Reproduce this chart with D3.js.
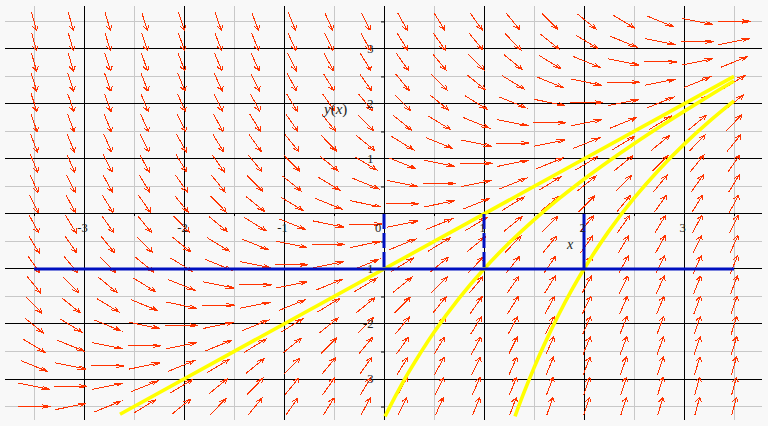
<!DOCTYPE html>
<html><head><meta charset="utf-8">
<script src="https://cdn.jsdelivr.net/npm/d3@7"></script>
<style>html,body{margin:0;padding:0;background:#f8f8f8;} svg{display:block;}</style>
</head><body><svg id="c" width="768" height="426"></svg>
<script>
// Direction field of dy/dx = x - y, sampled on a 20 x 20 grid
const fieldX = [-3.5,-3.132,-2.763,-2.395,-2.026,-1.658,-1.289,-0.921,-0.553,-0.184,0.184,0.553,0.921,1.289,1.658,2.026,2.395,2.763,3.132,3.5];
const fieldY = [-3.5,-3.132,-2.763,-2.395,-2.026,-1.658,-1.289,-0.921,-0.553,-0.184,0.184,0.553,0.921,1.289,1.658,2.026,2.395,2.763,3.132,3.5];
const slope = (x, y) => x - y;
const arrowLen = 0.33;

// Axis / grid values
const majorX = [-3,-2,-1,0,1,2,3];
const majorY = [-3,-2,-1,0,1,2,3];
const minorX = [-3.5,-2.5,-1.5,-0.5,0.5,1.5,2.5,3.5];
const minorY = [-3.5,-2.5,-1.5,-0.5,0.5,1.5,2.5,3.5];
const xTickVals = [-3,-2,-1,0,1,2,3];
const xTickLabels = ["-3","-2","-1","0","1","2","3"];
const yTickVals = [3,2,1,-1,-2,-3];
const yTickLabels = ["3","2","1","-1","-2","-3"];

// Solution curves
const curve1 = [[-2.64,-3.64],[3.5,2.5]];
const curve2 = [[0.01,-3.68],[0.1,-3.36],[0.25,-2.867],[0.5,-2.149],[0.75,-1.534],[1.0,-1.0],[1.25,-0.529],[1.5,-0.107],[1.75,0.278],[2.0,0.632],[2.25,0.963],[2.5,1.277],[2.75,1.576],[3.0,1.865],[3.25,2.145],[3.5,2.418]];
const curve3 = [[1.31,-3.677],[1.4,-3.244],[1.5,-2.797],[1.6,-2.384],[1.75,-1.818],[1.875,-1.39],[2.0,-1.0],[2.25,-0.308],[2.5,0.287],[2.75,0.805],[3.0,1.264],[3.25,1.677],[3.5,2.054]];
const curves = [curve1, curve2, curve3];

// Blue reference lines
const hLine = {y: -1, x0: -3.5, x1: 3.5};
const vLines = [{x: 0, y0: 0, y1: -1, dashed: true}, {x: 1, y0: 0, y1: -1, dashed: true}, {x: 2, y0: 0, y1: -1, dashed: false}];

const svg = d3.select("#c");
const x = d3.scaleLinear().domain([-3.79, 3.78]).range([5, 762]);
const y = d3.scaleLinear().domain([-3.745, 3.78]).range([420, 6]);
const [X0, X1] = x.domain(), [Y0, Y1] = y.domain();

svg.append("rect").attr("width",768).attr("height",426).attr("fill","#f8f8f8");

// grid
const g = svg.append("g").attr("shape-rendering","crispEdges");
g.selectAll(".mx").data(minorX).join("line").attr("x1",d=>x(d)).attr("x2",d=>x(d)).attr("y1",y(Y1)).attr("y2",y(Y0)).attr("stroke","#c8c8c8");
g.selectAll(".my").data(minorY).join("line").attr("class","my").attr("y1",d=>y(d)).attr("y2",d=>y(d)).attr("x1",x(X0)).attr("x2",x(X1)).attr("stroke","#c8c8c8");
g.selectAll(".Mx").data(majorX).join("line").attr("class","Mx").attr("x1",d=>x(d)).attr("x2",d=>x(d)).attr("y1",y(Y1)).attr("y2",y(Y0)).attr("stroke","#000");
g.selectAll(".My").data(majorY).join("line").attr("class","My").attr("y1",d=>y(d)).attr("y2",d=>y(d)).attr("x1",x(X0)).attr("x2",x(X1)).attr("stroke","#000");

// small axis ticks
const ax = svg.append("g").attr("transform",`translate(0,${y(0)})`).call(d3.axisBottom(x).tickValues(minorX).tickSize(2).tickFormat(""));
const ay = svg.append("g").attr("transform",`translate(${x(0)},0)`).call(d3.axisLeft(y).tickValues(minorY).tickSize(3).tickFormat(""));
[ax, ay].forEach(a => { a.select(".domain").remove(); a.selectAll("line").attr("stroke","#000"); });

// arrows
const pts = [];
fieldX.forEach(fx => fieldY.forEach(fy => pts.push([fx, fy])));
function arrowPath([cx, cy]) {
  const m = slope(cx, cy);
  const n = Math.sqrt(1 + m*m);
  const dx = 1/n, dy = m/n;
  const h = arrowLen/2;
  const p0 = [cx - dx*h, cy - dy*h], p1 = [cx + dx*h, cy + dy*h];
  const back = arrowLen*0.25, hw = 0.03;
  const b = [p1[0] - dx*back, p1[1] - dy*back];
  const q1 = [b[0] - dy*hw, b[1] + dx*hw], q2 = [b[0] + dy*hw, b[1] - dx*hw];
  const P = p => `${x(p[0]).toFixed(2)},${y(p[1]).toFixed(2)}`;
  return `M${P(p0)}L${P(p1)}M${P(q1)}L${P(p1)}L${P(q2)}`;
}
svg.append("g").attr("shape-rendering","crispEdges").selectAll("path").data(pts).join("path").attr("d", arrowPath)
  .attr("fill","none").attr("stroke","#ff3300").attr("stroke-width",1);

// solution curves
const line = d3.line().x(d=>x(d[0])).y(d=>y(d[1])).curve(d3.curveCatmullRom);
svg.append("g").selectAll("path").data(curves).join("path").attr("d", line)
  .attr("fill","none").attr("stroke","#ffff00").attr("stroke-width",3.6);

// blue lines
svg.append("line").attr("x1",x(hLine.x0)).attr("x2",x(hLine.x1)).attr("y1",y(hLine.y)).attr("y2",y(hLine.y))
  .attr("stroke","#0010c0").attr("stroke-width",3);
svg.append("g").selectAll("line").data(vLines).join("line")
  .attr("x1",d=>x(d.x)).attr("x2",d=>x(d.x)).attr("y1",d=>y(d.y0)).attr("y2",d=>y(d.y1))
  .attr("stroke","#0010c0").attr("stroke-width",3).attr("stroke-dasharray",d=>d.dashed?"15,4":null);

// labels
const font = "'Liberation Serif','Times New Roman',serif";
svg.append("g").selectAll("text").data(xTickVals).join("text")
  .attr("x",(d)=> d===0 ? x(d)-6 : x(d)-1.5).attr("y", y(0)+18.5)
  .attr("text-anchor","middle").attr("font-family",font).attr("font-size",12.5).attr("fill","#222")
  .text((d,i)=>xTickLabels[i]);
svg.append("g").selectAll("text").data(yTickVals).join("text")
  .attr("x", x(0)-10.5).attr("y", d=>y(d)+4)
  .attr("text-anchor","end").attr("font-family",font).attr("font-size",12.5).attr("fill","#222")
  .text((d,i)=>yTickLabels[i]);
const yl = svg.append("text").attr("x",324).attr("y",114).attr("font-family",font).attr("font-size",15).attr("fill","#222");
yl.append("tspan").attr("font-style","italic").text("y");
yl.append("tspan").text("(");
yl.append("tspan").attr("font-style","italic").text("x");
yl.append("tspan").text(")");
svg.append("text").attr("x",567).attr("y",249).attr("font-family",font).attr("font-size",14).attr("font-style","italic").attr("fill","#222").text("x");
</script></body></html>
